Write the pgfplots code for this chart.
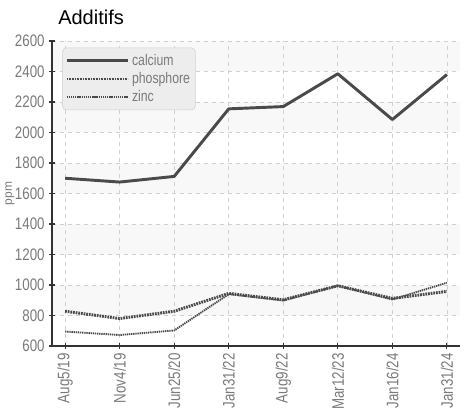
\documentclass[border=0pt]{standalone}
\usepackage{pgfplots}
\pgfplotsset{compat=1.18}
\usepackage{fontspec}
\setmainfont{Liberation Sans}
\newfontfamily\cond[FakeStretch=0.8]{Liberation Sans}
\definecolor{linegray}{HTML}{4A4A4A}
\definecolor{ticktext}{HTML}{7A7A7A}
\definecolor{gridgray}{HTML}{D0D0D0}
\definecolor{bandgray}{HTML}{F8F8F8}
\definecolor{legfill}{HTML}{EDEDED}
\pgfplotsset{band/.style={draw=none, fill=bandgray, forget plot, on layer=axis background}}
\begin{document}
\begin{tikzpicture}
\begin{axis}[
    set layers,
    clip=false,
    scale only axis,
    width=306pt,
    height=228.75pt,
    xmin=-0.24, xmax=7.24,
    ymin=600, ymax=2600,
    xtick={0,...,7},
    xticklabels={Aug5/19,Nov4/19,Jun25/20,Jan31/22,Aug9/22,Mar12/23,Jan16/24,Jan31/24},
    x tick label style={rotate=90, anchor=east, font=\cond\fontsize{12.5}{13}\selectfont, text=ticktext},
    ytick={600,800,...,2600},
    y tick label style={font=\cond\fontsize{12.5}{13}\selectfont, text=ticktext},
    /pgf/number format/assume math mode=true,
    /pgf/number format/1000 sep={},
    axis x line*=bottom,
    axis y line*=left,
    axis line style={black!80, line width=0.9pt, -},
    tick style={black!80, line width=0.8pt},
    tick align=center,
    major tick length=4pt,
    grid=major,
    grid style={gridgray, dashed, line width=0.5pt},
    ylabel={ppm},
    every axis y label/.style={at={(rel axis cs:0,0.5)}, xshift=-31.5pt, rotate=90, anchor=center,
        font=\fontsize{9}{10}\selectfont, text=ticktext},
    legend style={at={(rel axis cs:0.025,0.978)}, anchor=north west, fill=legfill, draw=gridgray,
        rounded corners=3pt, font=\cond\fontsize{11.5}{12}\selectfont, text=ticktext,
        row sep=0pt, inner xsep=2pt, inner ysep=2.5pt},
    legend cell align=left,
    legend image code/.code={\draw[#1] (0pt,0pt) -- (46pt,0pt);},
]
% background bands
\addplot[band] coordinates {(-0.24,800) (7.24,800) (7.24,1000) (-0.24,1000) (-0.24,800)};
\addplot[band] coordinates {(-0.24,1200) (7.24,1200) (7.24,1400) (-0.24,1400) (-0.24,1200)};
\addplot[band] coordinates {(-0.24,1600) (7.24,1600) (7.24,1800) (-0.24,1800) (-0.24,1600)};
\addplot[band] coordinates {(-0.24,2000) (7.24,2000) (7.24,2200) (-0.24,2200) (-0.24,2000)};
\addplot[band] coordinates {(-0.24,2400) (7.24,2400) (7.24,2600) (-0.24,2600) (-0.24,2400)};
% calcium
\addplot[linegray, line width=2.2pt, line join=round] coordinates {
    (0,1700) (1,1675) (2,1712) (3,2155) (4,2170) (5,2385) (6,2085) (7,2380)
};
% phosphore
\addplot[linegray, line width=2.2pt, dash pattern=on 1.3pt off 0.7pt] coordinates {
    (0,828) (1,780) (2,828) (3,945) (4,903) (5,995) (6,912) (7,958)
};
% zinc
\addplot[linegray, line width=1.4pt, dash pattern=on 1pt off 0.6pt] coordinates {
    (0,695) (1,672) (2,702) (3,940) (4,898) (5,995) (6,905) (7,1015)
};
\legend{calcium, phosphore, zinc}
\node[anchor=base west, font=\fontsize{15}{16}\selectfont, inner sep=0pt] at ([xshift=4.5pt, yshift=12pt]rel axis cs:0,1) {Additifs};
\end{axis}
\path (-39pt,-48.75pt) rectangle (310.5pt,259.5pt);
\end{tikzpicture}
\end{document}
